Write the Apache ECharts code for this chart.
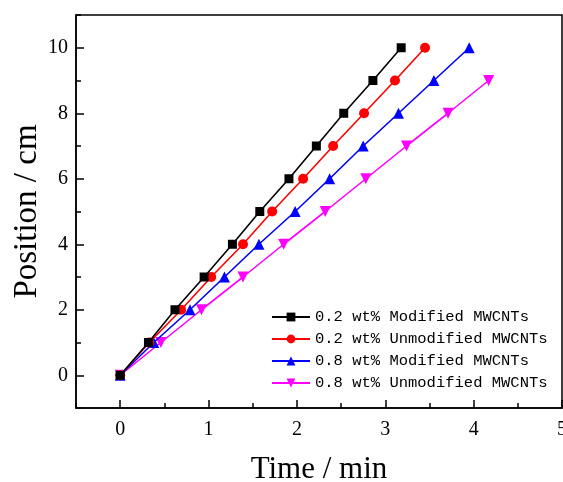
<!DOCTYPE html>
<html>
<head>
<meta charset="utf-8">
<script src="https://cdn.jsdelivr.net/npm/echarts@6/dist/echarts.min.js"></script>
<style>
  html, body { margin: 0; padding: 0; background: #fff; }
  #chart { width: 563px; height: 482px; }
</style>
</head>
<body>
<div id="chart"></div>
<script>
// 数据
var seriesNames = [
    '0.2 wt% Modified MWCNTs',
    '0.2 wt% Unmodified MWCNTs',
    '0.8 wt% Modified MWCNTs',
    '0.8 wt% Unmodified MWCNTs'
];
var seriesColors = ['#000000', '#ff0000', '#0000ff', '#ff00ff'];
var positions = [0, 1, 2, 3, 4, 5, 6, 7, 8, 9, 10];
var timeMod02 = [0, 0.32, 0.62, 0.95, 1.27, 1.58, 1.91, 2.22, 2.53, 2.86, 3.18];
var timeUnmod02 = [0, 0.33, 0.69, 1.03, 1.39, 1.72, 2.07, 2.41, 2.76, 3.11, 3.45];
var timeMod08 = [0, 0.38, 0.79, 1.18, 1.57, 1.98, 2.37, 2.75, 3.15, 3.55, 3.95];
var timeUnmod08 = [0, 0.46, 0.92, 1.39, 1.85, 2.32, 2.78, 3.24, 3.71, 4.17];

// 刻度
var xMajorTicks = [0, 1, 2, 3, 4, 5];
var yMajorTicks = [0, 2, 4, 6, 8, 10];

var aoTimes = [timeMod02, timeUnmod02, timeMod08, timeUnmod08];
var aoSymbols = ['rect', 'circle', 'triangle', 'triangle'];
var anSymbolSize = [9, 10, 11, 11];
var anRotate = [0, 0, 0, 180];

function pairs(aTime) {
    var aoRet = [];
    for (var i = 0; i < aTime.length; i++) {
        aoRet.push([aTime[i], positions[i]]);
    }
    return aoRet;
}

var aoSer = [];
for (var i = 0; i < seriesNames.length; i++) {
    aoSer.push({
        name: seriesNames[i],
        type: 'line',
        data: pairs(aoTimes[i]),
        symbol: aoSymbols[i],
        symbolSize: anSymbolSize[i],
        symbolRotate: anRotate[i],
        showAllSymbol: true,
        color: seriesColors[i],
        lineStyle: { color: seriesColors[i], width: 1.6 },
        itemStyle: { color: seriesColors[i] },
        z: 10 - i
    });
}

var cSerif = '"Liberation Serif", "Times New Roman", serif';
var cMono = '"Liberation Mono", "Courier New", monospace';
var oTickLine = { color: '#000', width: 1.5 };

var oChart = echarts.init(document.getElementById('chart'));
oChart.setOption({
    animation: false,
    grid: {
        left: 76, top: 15, right: 1, bottom: 74,
        containLabel: false,
        outerBoundsMode: 'none',
        show: true, borderColor: '#000', borderWidth: 1.5,
        backgroundColor: 'transparent'
    },
    legend: {
        orient: 'vertical',
        left: 266,
        top: 304,
        itemWidth: 38,
        itemHeight: 11,
        itemGap: 6,
        textStyle: { fontFamily: cMono, fontSize: 15.5, color: '#000', lineHeight: 16 },
        data: seriesNames
    },
    xAxis: [{
        // 次刻度 + 标签
        type: 'value',
        min: -0.5, max: 5, interval: 0.5,
        name: 'Time / min',
        nameLocation: 'middle',
        nameGap: 46,
        nameMoveOverlap: false,
        nameTextStyle: { fontFamily: cSerif, fontSize: 31, color: '#000' },
        axisLine: { show: true, onZero: false, lineStyle: oTickLine },
        axisTick: { show: true, inside: true, length: 5, lineStyle: oTickLine },
        axisLabel: { customValues: xMajorTicks, margin: 12, fontFamily: cSerif, fontSize: 20, color: '#000' },
        splitLine: { show: false }
    }, {
        // 主刻度
        type: 'value',
        position: 'bottom',
        min: -0.5, max: 5,
        axisLine: { show: false, onZero: false },
        axisTick: { show: true, inside: true, length: 8, customValues: xMajorTicks, lineStyle: oTickLine },
        axisLabel: { show: false },
        splitLine: { show: false }
    }],
    yAxis: [{
        type: 'value',
        min: -1, max: 11, interval: 1,
        name: 'Position / cm',
        nameLocation: 'middle',
        nameGap: 32,
        nameMoveOverlap: false,
        nameTextStyle: { fontFamily: cSerif, fontSize: 33, color: '#000' },
        axisLine: { show: true, onZero: false, lineStyle: oTickLine },
        axisTick: { show: true, inside: true, length: 5, lineStyle: oTickLine },
        axisLabel: { customValues: yMajorTicks, margin: 8, fontFamily: cSerif, fontSize: 20, color: '#000' },
        splitLine: { show: false }
    }, {
        type: 'value',
        position: 'left',
        min: -1, max: 11,
        axisLine: { show: false, onZero: false },
        axisTick: { show: true, inside: true, length: 8, customValues: yMajorTicks, lineStyle: oTickLine },
        axisLabel: { show: false },
        splitLine: { show: false }
    }],
    series: aoSer
});
</script>
</body>
</html>
